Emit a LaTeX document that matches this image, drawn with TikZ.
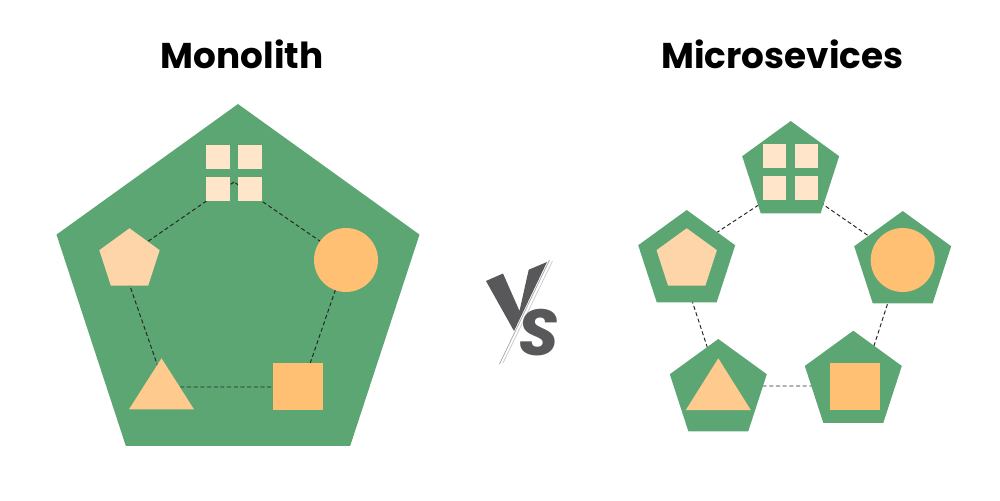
\documentclass[tikz,border=0pt]{standalone}
\usepackage{fontspec}
\setmainfont{Poppins}
\usetikzlibrary{shapes.geometric}
\definecolor{leaf}     {HTML}{5CA674}
\definecolor{cream}    {HTML}{FFE6CA}
\definecolor{peach}    {HTML}{FDD5A9}
\definecolor{apricot}  {HTML}{FFC074}
\definecolor{sand}     {HTML}{FECA8D}
\definecolor{slate}    {HTML}{58575A}
\tikzset{
  % --- shells
  shell/.style    = {regular polygon, regular polygon sides=5, fill=leaf, draw=none, inner sep=0pt},
  bigshell/.style = {shell, minimum size=7.56cm, xscale=1.01},
  svc/.style      = {shell, minimum size=2.04cm},
  % --- parts
  tile/.style     = {fill=cream, draw=none, minimum size=0.47cm, inner sep=0pt},
  penta/.style    = {regular polygon, regular polygon sides=5, fill=peach, inner sep=0pt, minimum size=1.27cm},
  disc/.style     = {circle, fill=apricot, inner sep=0pt, minimum size=1.28cm},
  box/.style      = {rectangle, fill=apricot, inner sep=0pt, minimum width=1cm, minimum height=0.94cm},
  tri/.style      = {fill=sand},
  % --- lines
  ring/.style     = {draw=black!85, line width=0.55pt, dash pattern=on 2.3pt off 1.5pt},
  title/.style    = {font=\fontsize{20.4}{24}\selectfont\bfseries, anchor=base, inner sep=0pt},
}
\begin{document}
\begin{tikzpicture}[x=0.02cm, y=-0.02cm]
  \useasboundingbox (0,0) rectangle (1000,500);

  % titles
  \node[title] (tmono) at (242,69) {Monolith};
  \node[title] (tmicro) at (782.5,69) {Microsevices};

  % ---------- monolith
  \node[bigshell] (mono) at (238,293) {};
  \coordinate (mT)  at (234,182);
  \coordinate (mL)  at (121,260);
  \coordinate (mR)  at (346,259);
  \coordinate (mBL) at (165,387);
  \coordinate (mBR) at (302,387);
  \draw[ring] (mT) -- (mL) -- (mBL) -- (mBR) -- (mR) -- cycle;

  \coordinate (mgrid) at (234,173);
  \foreach \dx in {-16,16}
    \foreach \dy in {-16,16}
      \node[tile] at ([shift={(\dx,\dy)}]mgrid) {};
  \node[penta] (mpenta) at (129.5,260) {};
  \node[disc]  (mdisc)  at (346,260) {};
  \node[box]   (mbox)   at (298,386) {};
  \coordinate (mtri) at (161.5,358.3);
  \fill[tri] (mtri) -- ++(32.5,51) -- ++(-65,0) -- cycle;

  % ---------- versus
  \fill[slate] (486,281) -- (503,273.5) -- (519.5,311) -- (528.7,269.7)
               -- (547,262) -- (514,331) -- cycle;
  \draw[gray!65, line width=0.45pt] (549.5,260) -- (499.5,364);
  \draw[gray!40, line width=0.45pt] (552.5,261) -- (503,363);
  \node[text=slate, inner sep=0pt, font=\fontsize{37}{37}\selectfont\bfseries\itshape] (vsS) at (538.5,333) {S};

  % ---------- microservices
  \coordinate (sT)  at (792,183);
  \coordinate (sL)  at (678,258);
  \coordinate (sR)  at (902,259);
  \coordinate (sBL) at (720,386);
  \coordinate (sBR) at (861,386);
  \draw[ring] (sT) -- (sL) -- (sBL) -- (sBR) -- (sR) -- cycle;

  \node[svc] (grid)  at (790.7,172) {};
  \node[svc] (left)  at (686.7,261) {};
  \node[svc] (right) at (902.7,262) {};
  \node[svc] (low)   at (718.3,390) {};
  \node[svc] (rect)  at (853.3,381.7) {};

  \foreach \dx in {-16,16}
    \foreach \dy in {-16,16}
      \node[tile] at ([shift={(\dx,\dy)}]grid) {};
  \node[penta] (spenta) at (686.7,260) {};
  \node[disc]  (sdisc)  at (902.7,260) {};
  \node[box]   (sbox)   at (855,386.3) {};
  \coordinate (stri) at (718.3,358.3);
  \fill[tri] (stri) -- ++(32.5,51.7) -- ++(-65,0) -- cycle;
\end{tikzpicture}
\end{document}
